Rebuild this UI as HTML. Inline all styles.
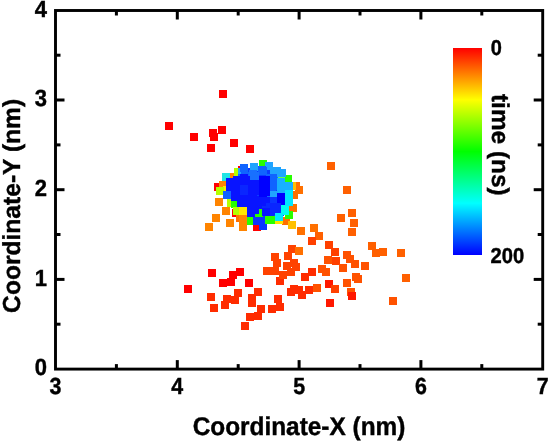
<!DOCTYPE html>
<html><head><meta charset="utf-8"><style>
html,body{margin:0;padding:0;background:#fff;}
svg{display:block;will-change:transform;text-rendering:geometricPrecision;}
text{font-family:"Liberation Sans",sans-serif;font-weight:bold;fill:#000;stroke:#000;stroke-width:0.4px;}
</style></head><body>
<svg width="549" height="442" viewBox="0 0 549 442">
<defs><linearGradient id="cb" x1="0" y1="0" x2="0" y2="1">
<stop offset="0" stop-color="#ff0000"/><stop offset="0.25" stop-color="#ffff00"/><stop offset="0.5" stop-color="#00ff00"/><stop offset="0.75" stop-color="#00ffff"/><stop offset="1" stop-color="#0000ff"/>
</linearGradient></defs>
<g shape-rendering="crispEdges"><polygon points="242,168 280,170 290,182 291,206 284,216 262,220 248,214 234,200 228,184" fill="#0a3cff"/><rect x="218.9" y="90.2" width="8.0" height="8.0" fill="#ff0000"/><rect x="165.0" y="121.9" width="8.0" height="8.0" fill="#ff0000"/><rect x="190.0" y="132.9" width="8.0" height="8.0" fill="#ff0000"/><rect x="208.9" y="129.1" width="8.0" height="8.0" fill="#ff0000"/><rect x="209.8" y="132.5" width="8.0" height="8.0" fill="#ff0000"/><rect x="217.5" y="125.8" width="8.0" height="8.0" fill="#ff0000"/><rect x="207.0" y="143.5" width="8.0" height="8.0" fill="#ff0000"/><rect x="230.4" y="139.1" width="8.0" height="8.0" fill="#ff0000"/><rect x="245.8" y="144.8" width="8.0" height="8.0" fill="#ff0000"/><rect x="327.0" y="162.3" width="8.0" height="8.0" fill="#ff6000"/><rect x="342.8" y="186.4" width="8.0" height="8.0" fill="#ff6000"/><rect x="208.2" y="269.2" width="8.0" height="8.0" fill="#ff0000"/><rect x="236.2" y="267.7" width="8.0" height="8.0" fill="#ff0000"/><rect x="228.7" y="270.9" width="8.0" height="8.0" fill="#ff0000"/><rect x="227.0" y="277.5" width="8.0" height="8.0" fill="#ff0000"/><rect x="219.1" y="278.9" width="8.0" height="8.0" fill="#ff0000"/><rect x="244.8" y="278.6" width="8.0" height="8.0" fill="#ff0000"/><rect x="183.8" y="285.0" width="8.0" height="8.0" fill="#ff0000"/><rect x="207.1" y="292.7" width="8.0" height="8.0" fill="#ff2c00"/><rect x="234.3" y="288.8" width="8.0" height="8.0" fill="#ff2c00"/><rect x="223.3" y="294.7" width="8.0" height="8.0" fill="#ff2c00"/><rect x="231.0" y="295.8" width="8.0" height="8.0" fill="#ff2c00"/><rect x="220.5" y="301.1" width="8.0" height="8.0" fill="#ff2c00"/><rect x="209.6" y="304.4" width="8.0" height="8.0" fill="#ff2c00"/><rect x="248.0" y="294.3" width="8.0" height="8.0" fill="#ff2c00"/><rect x="248.0" y="298.8" width="8.0" height="8.0" fill="#ff2c00"/><rect x="245.6" y="312.8" width="8.0" height="8.0" fill="#ff2c00"/><rect x="241.3" y="321.5" width="8.0" height="8.0" fill="#ff2c00"/><rect x="254.3" y="288.0" width="8.0" height="8.0" fill="#ff2c00"/><rect x="256.9" y="304.7" width="8.0" height="8.0" fill="#ff2c00"/><rect x="253.6" y="312.0" width="8.0" height="8.0" fill="#ff2c00"/><rect x="268.1" y="305.3" width="8.0" height="8.0" fill="#ff2c00"/><rect x="274.0" y="295.0" width="8.0" height="8.0" fill="#ff2c00"/><rect x="276.0" y="302.9" width="8.0" height="8.0" fill="#ff2c00"/><rect x="270.7" y="252.6" width="8.0" height="8.0" fill="#ff4200"/><rect x="273.3" y="259.4" width="8.0" height="8.0" fill="#ff4200"/><rect x="263.0" y="267.0" width="8.0" height="8.0" fill="#ff4200"/><rect x="270.6" y="267.0" width="8.0" height="8.0" fill="#ff4200"/><rect x="275.5" y="276.6" width="8.0" height="8.0" fill="#ff2c00"/><rect x="279.0" y="270.8" width="8.0" height="8.0" fill="#ff4200"/><rect x="282.7" y="262.1" width="8.0" height="8.0" fill="#ff4200"/><rect x="284.2" y="252.4" width="8.0" height="8.0" fill="#ff4200"/><rect x="287.9" y="244.8" width="8.0" height="8.0" fill="#ff4200"/><rect x="294.8" y="247.2" width="8.0" height="8.0" fill="#ff7000"/><rect x="289.8" y="259.0" width="8.0" height="8.0" fill="#ff4200"/><rect x="287.0" y="268.3" width="8.0" height="8.0" fill="#ff4200"/><rect x="292.0" y="262.7" width="8.0" height="8.0" fill="#ff4200"/><rect x="296.7" y="227.4" width="8.0" height="8.0" fill="#ff7000"/><rect x="310.2" y="224.3" width="8.0" height="8.0" fill="#ff7000"/><rect x="314.5" y="232.4" width="8.0" height="8.0" fill="#ff6000"/><rect x="307.5" y="236.9" width="8.0" height="8.0" fill="#ff4000"/><rect x="325.1" y="241.4" width="8.0" height="8.0" fill="#ff4000"/><rect x="331.2" y="247.5" width="8.0" height="8.0" fill="#ff4000"/><rect x="324.4" y="255.6" width="8.0" height="8.0" fill="#ff5200"/><rect x="331.9" y="257.2" width="8.0" height="8.0" fill="#ff4000"/><rect x="308.4" y="267.6" width="8.0" height="8.0" fill="#ff2c00"/><rect x="300.8" y="272.9" width="8.0" height="8.0" fill="#ff2c00"/><rect x="317.5" y="265.3" width="8.0" height="8.0" fill="#ff5200"/><rect x="321.6" y="268.3" width="8.0" height="8.0" fill="#ff5200"/><rect x="324.8" y="279.7" width="8.0" height="8.0" fill="#ff1800"/><rect x="336.9" y="213.9" width="8.0" height="8.0" fill="#ff6000"/><rect x="348.4" y="208.8" width="8.0" height="8.0" fill="#ff6000"/><rect x="350.3" y="219.0" width="8.0" height="8.0" fill="#ff6000"/><rect x="348.1" y="227.9" width="8.0" height="8.0" fill="#ff6000"/><rect x="367.7" y="241.8" width="8.0" height="8.0" fill="#ff6000"/><rect x="371.6" y="249.3" width="8.0" height="8.0" fill="#ff6000"/><rect x="378.9" y="248.2" width="8.0" height="8.0" fill="#ff6000"/><rect x="396.5" y="248.5" width="8.0" height="8.0" fill="#ff6000"/><rect x="343.1" y="250.5" width="8.0" height="8.0" fill="#ff5200"/><rect x="345.5" y="255.0" width="8.0" height="8.0" fill="#ff5200"/><rect x="351.2" y="259.9" width="8.0" height="8.0" fill="#ff5200"/><rect x="361.3" y="262.1" width="8.0" height="8.0" fill="#ff5200"/><rect x="338.5" y="264.0" width="8.0" height="8.0" fill="#ff5200"/><rect x="352.0" y="272.9" width="8.0" height="8.0" fill="#ff5200"/><rect x="353.7" y="274.8" width="8.0" height="8.0" fill="#ff5200"/><rect x="342.7" y="278.8" width="8.0" height="8.0" fill="#ff5200"/><rect x="347.2" y="287.8" width="8.0" height="8.0" fill="#ff5200"/><rect x="348.3" y="292.3" width="8.0" height="8.0" fill="#ff1800"/><rect x="402.2" y="274.2" width="8.0" height="8.0" fill="#ff6000"/><rect x="389.0" y="296.9" width="8.0" height="8.0" fill="#ff5200"/><rect x="331.4" y="284.9" width="8.0" height="8.0" fill="#ff4000"/><rect x="326.4" y="299.3" width="8.0" height="8.0" fill="#ff1800"/><rect x="313.3" y="284.0" width="8.0" height="8.0" fill="#ff5200"/><rect x="304.7" y="286.0" width="8.0" height="8.0" fill="#ff2c00"/><rect x="298.2" y="290.6" width="8.0" height="8.0" fill="#ff2c00"/><rect x="294.5" y="285.5" width="8.0" height="8.0" fill="#ff2c00"/><rect x="290.0" y="285.3" width="8.0" height="8.0" fill="#ff2c00"/><rect x="287.2" y="287.7" width="8.0" height="8.0" fill="#ff2c00"/><rect x="227.4" y="199.3" width="8.0" height="8.0" fill="#b4ff00"/><rect x="230.9" y="200.4" width="8.0" height="8.0" fill="#28ff00"/><rect x="238.0" y="166.0" width="8.0" height="8.0" fill="#ff0000"/><rect x="214.0" y="183.4" width="8.0" height="8.0" fill="#ff0000"/><rect x="232.0" y="209.0" width="8.0" height="8.0" fill="#ff0000"/><rect x="236.3" y="214.0" width="8.0" height="8.0" fill="#ff7000"/><rect x="252.5" y="222.5" width="8.0" height="8.0" fill="#ff0000"/><rect x="228.0" y="172.5" width="8.0" height="8.0" fill="#ff8400"/><rect x="219.3" y="180.7" width="8.0" height="8.0" fill="#ff8400"/><rect x="214.6" y="198.4" width="8.0" height="8.0" fill="#ff8400"/><rect x="222.1" y="207.0" width="8.0" height="8.0" fill="#ff8400"/><rect x="212.0" y="214.0" width="8.0" height="8.0" fill="#ff8400"/><rect x="204.8" y="222.5" width="8.0" height="8.0" fill="#ff8400"/><rect x="226.0" y="219.0" width="8.0" height="8.0" fill="#ff8400"/><rect x="238.7" y="215.3" width="8.0" height="8.0" fill="#ff8400"/><rect x="238.7" y="223.1" width="8.0" height="8.0" fill="#ff8400"/><rect x="291.8" y="181.5" width="8.0" height="8.0" fill="#ff7000"/><rect x="294.5" y="186.0" width="8.0" height="8.0" fill="#ff7000"/><rect x="290.0" y="190.6" width="8.0" height="8.0" fill="#ff7000"/><rect x="289.1" y="203.9" width="8.0" height="8.0" fill="#ff7000"/><rect x="281.8" y="216.5" width="8.0" height="8.0" fill="#ff7000"/><rect x="288.4" y="182.4" width="8.0" height="8.0" fill="#ffc000"/><rect x="275.0" y="215.6" width="8.0" height="8.0" fill="#ffe600"/><rect x="288.0" y="221.2" width="8.0" height="8.0" fill="#ffc000"/><rect x="234.0" y="168.0" width="8.0" height="8.0" fill="#b4ff00"/><rect x="237.5" y="168.0" width="8.0" height="8.0" fill="#20a4ff"/><rect x="222.5" y="185.5" width="8.0" height="8.0" fill="#ffe600"/><rect x="259.1" y="160.1" width="8.0" height="8.0" fill="#28ff00"/><rect x="283.5" y="174.6" width="8.0" height="8.0" fill="#28ff00"/><rect x="277.0" y="176.0" width="8.0" height="8.0" fill="#60ff50"/><rect x="222.1" y="172.6" width="8.0" height="8.0" fill="#20e4e4"/><rect x="250.1" y="163.0" width="8.0" height="8.0" fill="#20a4ff"/><rect x="265.0" y="162.3" width="8.0" height="8.0" fill="#20a4ff"/><rect x="272.5" y="166.5" width="8.0" height="8.0" fill="#20a4ff"/><rect x="277.5" y="169.0" width="8.0" height="8.0" fill="#20a4ff"/><rect x="240.0" y="164.4" width="8.0" height="8.0" fill="#1064ff"/><rect x="237.5" y="173.5" width="8.0" height="8.0" fill="#1064ff"/><rect x="241.0" y="172.0" width="8.0" height="8.0" fill="#1064ff"/><rect x="258.0" y="166.4" width="8.0" height="8.0" fill="#1064ff"/><rect x="249.0" y="170.2" width="8.0" height="8.0" fill="#1870ff"/><rect x="269.8" y="173.1" width="8.0" height="8.0" fill="#1064ff"/><rect x="258.7" y="167.4" width="8.0" height="8.0" fill="#1064ff"/><rect x="249.6" y="171.5" width="8.0" height="8.0" fill="#1870ff"/><rect x="251.0" y="171.5" width="8.0" height="8.0" fill="#1870ff"/><rect x="251.5" y="180.0" width="8.0" height="8.0" fill="#0814ff"/><rect x="251.5" y="187.0" width="8.0" height="8.0" fill="#0814ff"/><rect x="265.5" y="174.0" width="8.0" height="8.0" fill="#1064ff"/><rect x="265.5" y="182.4" width="8.0" height="8.0" fill="#1064ff"/><rect x="265.5" y="189.0" width="8.0" height="8.0" fill="#1064ff"/><rect x="280.8" y="203.0" width="8.0" height="8.0" fill="#00ffee"/><rect x="276.0" y="208.0" width="8.0" height="8.0" fill="#0a36ff"/><rect x="277.0" y="185.0" width="8.0" height="8.0" fill="#18b0ff"/><rect x="284.5" y="188.0" width="8.0" height="8.0" fill="#00e8ff"/><rect x="231.0" y="193.0" width="8.0" height="8.0" fill="#0814ff"/><rect x="268.0" y="187.0" width="8.0" height="8.0" fill="#1064ff"/><rect x="270.0" y="168.8" width="8.0" height="8.0" fill="#20a4ff"/><rect x="277.0" y="168.8" width="8.0" height="8.0" fill="#20a4ff"/><rect x="269.2" y="174.0" width="8.0" height="8.0" fill="#1064ff"/><rect x="269.2" y="182.4" width="8.0" height="8.0" fill="#1064ff"/><rect x="267.5" y="174.0" width="8.0" height="8.0" fill="#1064ff"/><rect x="267.5" y="182.4" width="8.0" height="8.0" fill="#1064ff"/><rect x="269.5" y="190.5" width="8.0" height="8.0" fill="#20a4ff"/><rect x="277.0" y="177.5" width="8.0" height="8.0" fill="#18b0ff"/><rect x="277.0" y="183.0" width="8.0" height="8.0" fill="#18b0ff"/><rect x="284.5" y="182.0" width="8.0" height="8.0" fill="#18b0ff"/><rect x="284.5" y="191.5" width="8.0" height="8.0" fill="#00e8ff"/><rect x="284.5" y="197.5" width="8.0" height="8.0" fill="#00e8ff"/><rect x="226.0" y="177.5" width="8.0" height="8.0" fill="#0814ff"/><rect x="233.0" y="176.0" width="8.0" height="8.0" fill="#0814ff"/><rect x="242.0" y="176.0" width="8.0" height="8.0" fill="#0814ff"/><rect x="226.0" y="183.0" width="8.0" height="8.0" fill="#0814ff"/><rect x="233.0" y="183.0" width="8.0" height="8.0" fill="#0814ff"/><rect x="250.0" y="184.0" width="8.0" height="8.0" fill="#0814ff"/><rect x="228.0" y="189.0" width="8.0" height="8.0" fill="#0814ff"/><rect x="235.0" y="188.0" width="8.0" height="8.0" fill="#0814ff"/><rect x="242.0" y="188.0" width="8.0" height="8.0" fill="#0814ff"/><rect x="249.0" y="190.0" width="8.0" height="8.0" fill="#0814ff"/><rect x="258.7" y="192.0" width="8.0" height="8.0" fill="#0000ff"/><rect x="240.0" y="180.0" width="8.0" height="8.0" fill="#0a26ff"/><rect x="242.0" y="182.0" width="8.0" height="8.0" fill="#0a26ff"/><rect x="240.4" y="173.8" width="8.0" height="8.0" fill="#0814ff"/><rect x="240.4" y="177.4" width="8.0" height="8.0" fill="#0814ff"/><rect x="246.8" y="180.0" width="8.0" height="8.0" fill="#0814ff"/><rect x="250.3" y="180.0" width="8.0" height="8.0" fill="#0814ff"/><rect x="246.8" y="187.0" width="8.0" height="8.0" fill="#0814ff"/><rect x="250.3" y="187.0" width="8.0" height="8.0" fill="#0814ff"/><rect x="258.7" y="176.0" width="8.0" height="8.0" fill="#0000ff"/><rect x="258.7" y="184.0" width="8.0" height="8.0" fill="#0000ff"/><rect x="258.7" y="187.0" width="8.0" height="8.0" fill="#0000ff"/><rect x="261.5" y="176.0" width="8.0" height="8.0" fill="#0000ff"/><rect x="261.5" y="184.0" width="8.0" height="8.0" fill="#0000ff"/><rect x="261.5" y="188.0" width="8.0" height="8.0" fill="#0000ff"/><rect x="239.7" y="185.4" width="8.0" height="8.0" fill="#0a26ff"/><rect x="239.7" y="187.0" width="8.0" height="8.0" fill="#0a26ff"/><rect x="237.0" y="196.0" width="8.0" height="8.0" fill="#0814ff"/><rect x="244.0" y="196.0" width="8.0" height="8.0" fill="#0814ff"/><rect x="251.0" y="196.0" width="8.0" height="8.0" fill="#0814ff"/><rect x="258.0" y="197.0" width="8.0" height="8.0" fill="#0814ff"/><rect x="262.0" y="197.0" width="8.0" height="8.0" fill="#0814ff"/><rect x="269.5" y="197.0" width="8.0" height="8.0" fill="#0a36ff"/><rect x="276.7" y="193.4" width="8.0" height="8.0" fill="#0000ff"/><rect x="276.7" y="197.2" width="8.0" height="8.0" fill="#0000ff"/><rect x="237.0" y="200.0" width="8.0" height="8.0" fill="#0814ff"/><rect x="244.0" y="203.0" width="8.0" height="8.0" fill="#0814ff"/><rect x="251.0" y="202.0" width="8.0" height="8.0" fill="#0814ff"/><rect x="258.0" y="204.0" width="8.0" height="8.0" fill="#0814ff"/><rect x="262.0" y="205.5" width="8.0" height="8.0" fill="#0a26ff"/><rect x="269.5" y="206.5" width="8.0" height="8.0" fill="#0a26ff"/><rect x="272.3" y="207.0" width="8.0" height="8.0" fill="#0a26ff"/><rect x="247.0" y="209.0" width="8.0" height="8.0" fill="#0814ff"/><rect x="259.0" y="209.0" width="8.0" height="8.0" fill="#0814ff"/><rect x="266.0" y="203.0" width="8.0" height="8.0" fill="#0a26ff"/><rect x="273.0" y="203.0" width="8.0" height="8.0" fill="#0a26ff"/><rect x="266.0" y="210.0" width="8.0" height="8.0" fill="#0a26ff"/><rect x="259.0" y="213.0" width="8.0" height="8.0" fill="#0a36ff"/><rect x="216.0" y="187.0" width="8.0" height="8.0" fill="#b4ff00"/><rect x="223.0" y="191.0" width="8.0" height="8.0" fill="#1064ff"/><rect x="233.2" y="207.0" width="8.0" height="8.0" fill="#b4ff00"/><rect x="239.2" y="207.4" width="8.0" height="8.0" fill="#ffe600"/><rect x="246.5" y="217.0" width="8.0" height="8.0" fill="#28ff00"/><rect x="254.7" y="209.0" width="8.0" height="8.0" fill="#28ff00"/><rect x="251.0" y="205.7" width="8.0" height="8.0" fill="#0814ff"/><rect x="262.2" y="208.0" width="8.0" height="8.0" fill="#0814ff"/><rect x="253.0" y="217.0" width="8.0" height="8.0" fill="#0a36ff"/><rect x="258.5" y="218.5" width="8.0" height="8.0" fill="#0a36ff"/><rect x="258.5" y="222.3" width="8.0" height="8.0" fill="#0a36ff"/><rect x="264.7" y="216.2" width="8.0" height="8.0" fill="#28ff00"/><rect x="266.9" y="216.2" width="8.0" height="8.0" fill="#28ff00"/><rect x="285.2" y="210.5" width="8.0" height="8.0" fill="#28ff00"/><rect x="280.8" y="206.5" width="8.0" height="8.0" fill="#00ffee"/><rect x="275.0" y="212.5" width="8.0" height="8.0" fill="#00e8ff"/></g>
<rect x="55.5" y="10.5" width="487.2" height="358.6" fill="none" stroke="#000" stroke-width="2.9"/>
<line x1="116.4" y1="369.1" x2="116.4" y2="364.1" stroke="#000" stroke-width="3"/><line x1="116.4" y1="10.5" x2="116.4" y2="15.5" stroke="#000" stroke-width="3"/><line x1="177.3" y1="369.1" x2="177.3" y2="360.1" stroke="#000" stroke-width="3"/><line x1="177.3" y1="10.5" x2="177.3" y2="19.5" stroke="#000" stroke-width="3"/><line x1="238.2" y1="369.1" x2="238.2" y2="364.1" stroke="#000" stroke-width="3"/><line x1="238.2" y1="10.5" x2="238.2" y2="15.5" stroke="#000" stroke-width="3"/><line x1="299.1" y1="369.1" x2="299.1" y2="360.1" stroke="#000" stroke-width="3"/><line x1="299.1" y1="10.5" x2="299.1" y2="19.5" stroke="#000" stroke-width="3"/><line x1="360.0" y1="369.1" x2="360.0" y2="364.1" stroke="#000" stroke-width="3"/><line x1="360.0" y1="10.5" x2="360.0" y2="15.5" stroke="#000" stroke-width="3"/><line x1="420.9" y1="369.1" x2="420.9" y2="360.1" stroke="#000" stroke-width="3"/><line x1="420.9" y1="10.5" x2="420.9" y2="19.5" stroke="#000" stroke-width="3"/><line x1="481.8" y1="369.1" x2="481.8" y2="364.1" stroke="#000" stroke-width="3"/><line x1="481.8" y1="10.5" x2="481.8" y2="15.5" stroke="#000" stroke-width="3"/><line x1="55.5" y1="324.2" x2="60.5" y2="324.2" stroke="#000" stroke-width="3"/><line x1="542.7" y1="324.2" x2="537.7" y2="324.2" stroke="#000" stroke-width="3"/><line x1="55.5" y1="279.4" x2="64.5" y2="279.4" stroke="#000" stroke-width="3"/><line x1="542.7" y1="279.4" x2="533.7" y2="279.4" stroke="#000" stroke-width="3"/><line x1="55.5" y1="234.5" x2="60.5" y2="234.5" stroke="#000" stroke-width="3"/><line x1="542.7" y1="234.5" x2="537.7" y2="234.5" stroke="#000" stroke-width="3"/><line x1="55.5" y1="189.7" x2="64.5" y2="189.7" stroke="#000" stroke-width="3"/><line x1="542.7" y1="189.7" x2="533.7" y2="189.7" stroke="#000" stroke-width="3"/><line x1="55.5" y1="144.9" x2="60.5" y2="144.9" stroke="#000" stroke-width="3"/><line x1="542.7" y1="144.9" x2="537.7" y2="144.9" stroke="#000" stroke-width="3"/><line x1="55.5" y1="100.0" x2="64.5" y2="100.0" stroke="#000" stroke-width="3"/><line x1="542.7" y1="100.0" x2="533.7" y2="100.0" stroke="#000" stroke-width="3"/><line x1="55.5" y1="55.2" x2="60.5" y2="55.2" stroke="#000" stroke-width="3"/><line x1="542.7" y1="55.2" x2="537.7" y2="55.2" stroke="#000" stroke-width="3"/>
<rect x="453" y="48" width="29" height="207" fill="url(#cb)"/>
<text transform="translate(55.50,394.20) scale(1.0,1.09)" text-anchor="middle" font-size="21.4">3</text><text transform="translate(177.30,394.20) scale(1.0,1.09)" text-anchor="middle" font-size="21.4">4</text><text transform="translate(299.10,394.20) scale(1.0,1.09)" text-anchor="middle" font-size="21.4">5</text><text transform="translate(420.90,394.20) scale(1.0,1.09)" text-anchor="middle" font-size="21.4">6</text><text transform="translate(542.70,394.20) scale(1.0,1.09)" text-anchor="middle" font-size="21.4">7</text><text transform="translate(47.00,375.40) scale(1.0,1.065)" text-anchor="end" font-size="22">0</text><text transform="translate(47.00,285.75) scale(1.0,1.065)" text-anchor="end" font-size="22">1</text><text transform="translate(47.00,196.10) scale(1.0,1.065)" text-anchor="end" font-size="22">2</text><text transform="translate(47.00,106.45) scale(1.0,1.065)" text-anchor="end" font-size="22">3</text><text transform="translate(47.00,16.80) scale(1.0,1.065)" text-anchor="end" font-size="22">4</text><text transform="translate(490.70,55.20) scale(1.0,1.08)" text-anchor="start" font-size="20">0</text><text transform="translate(490.60,262.80) scale(1.0,1.07)" text-anchor="start" font-size="20.2">200</text><text transform="translate(492.10,94.00) rotate(90) scale(1.0,1.0)" text-anchor="start" font-size="24.4">time (ns)</text><text transform="translate(299.00,435.00) scale(1.0,1.05)" text-anchor="middle" font-size="24.4">Coordinate-X (nm)</text><text transform="translate(19.70,205.85) rotate(-90) scale(1.0,1.0)" text-anchor="middle" font-size="24.6">Coordinate-Y (nm)</text>
</svg>
</body></html>
